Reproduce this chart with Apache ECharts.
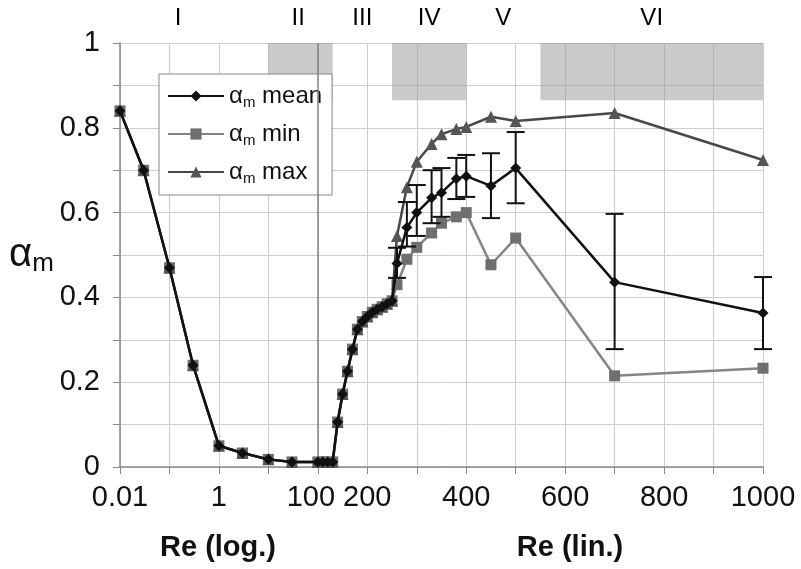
<!DOCTYPE html>
<html><head><meta charset="utf-8">
<script src="https://cdn.jsdelivr.net/npm/echarts@6/dist/echarts.min.js"></script>
<style>html,body{margin:0;padding:0;background:#fff}#c{width:801px;height:569px}</style>
</head><body><div id="c"></div>
<script>
// ---- data (Re values, alpha_m values) ----
// region where mean = min = max
const commonRe    = [0.01, 0.03, 0.1, 0.3, 1, 3, 10, 30, 100, 110, 120, 130, 140, 150, 160, 170, 180, 190, 200, 210, 220, 230, 240, 250];
const commonAlpha = [0.84, 0.70, 0.47, 0.24, 0.05, 0.033, 0.018, 0.012, 0.012, 0.012, 0.012, 0.012, 0.106, 0.172, 0.226, 0.278, 0.325, 0.343, 0.355, 0.365, 0.372, 0.378, 0.385, 0.392];
// region where the series split
const splitRe   = [260, 280, 300, 330, 350, 380, 400, 450, 500, 700, 1000];
const meanAlpha = [0.48, 0.565, 0.60, 0.635, 0.647, 0.68, 0.686, 0.663, 0.705, 0.436, 0.363];
const minAlpha  = [0.43, 0.49, 0.518, 0.552, 0.575, 0.59, 0.60, 0.477, 0.54, 0.215, 0.233];
const maxAlpha  = [0.545, 0.66, 0.72, 0.762, 0.785, 0.797, 0.802, 0.826, 0.816, 0.835, 0.724];
const errLow    = [0.446, 0.52, 0.545, 0.575, 0.59, 0.632, 0.637, 0.587, 0.622, 0.278, 0.278];
const errHigh   = [0.517, 0.625, 0.665, 0.70, 0.705, 0.729, 0.736, 0.74, 0.79, 0.597, 0.448];
// axis tick labels (Re) and shaded regimes
const xTickRe = [0.01, 1, 100, 200, 400, 600, 800, 1000];
const yTicks  = [0, 0.2, 0.4, 0.6, 0.8, 1];
const regimeNames = ['I', 'II', 'III', 'IV', 'V', 'VI'];
const regimeLabelRe = [0.15, 40, 190, 325, 475, 775];
const shadedFrom = [10, 250, 550];
const shadedTo   = [130, 400, 1000];
const shadeBottom = 0.865;

// piecewise axis scale: log for Re<=100, linear above
function toPos(re) { return re <= 100 ? Math.log10(re) + 2 : re / 100 + 3; }

const labelByPos = {};
xTickRe.forEach(r => { labelByPos[Math.round(toPos(r))] = r; });

function build(alphaSplit) {
  const d = commonRe.map((r, i) => [toPos(r), commonAlpha[i]]);
  splitRe.forEach((r, i) => d.push([toPos(r), alphaSplit[i]]));
  return d;
}
const errData = splitRe.map((r, i) => [toPos(r), errLow[i], errHigh[i]]);

const FONT = 'Liberation Sans, Arial, sans-serif';
const chart = echarts.init(document.getElementById('c'));

const legendRich = {
  g: { fontSize: 24, fontFamily: FONT, color: '#111', lineHeight: 28 },
  s: { fontSize: 15, fontFamily: FONT, color: '#111', verticalAlign: 'bottom', lineHeight: 28, padding: [6, 0, 0, 0] },
  t: { fontSize: 24, fontFamily: FONT, color: '#111', lineHeight: 28 }
};

chart.setOption({
  animation: false,
  backgroundColor: '#fff',
  grid: { left: 120, right: 38, top: 43, bottom: 102 },
  legend: {
    data: ['mean', 'min', 'max'],
    orient: 'vertical',
    left: 159, top: 74,
    padding: [10, 10, 9, 8],
    itemWidth: 56, itemHeight: 14, itemGap: 12,
    backgroundColor: '#fff',
    borderColor: '#888', borderWidth: 1,
    formatter: n => '{g|α}{s|m}{t| ' + n + '}',
    textStyle: { rich: legendRich, fontSize: 24, fontFamily: FONT }
  },
  xAxis: {
    type: 'value', min: 0, max: 13, interval: 1,
    axisLine: { show: true, lineStyle: { color: '#8a8a8a', width: 1.5 } },
    axisTick: { show: true, length: 7, lineStyle: { color: '#8a8a8a' } },
    splitLine: { show: true, lineStyle: { color: '#cdcdcd', width: 1 } },
    axisLabel: {
      margin: 16, color: '#111', fontSize: 29, fontFamily: FONT,
      formatter: v => {
        const r = labelByPos[Math.round(v)];
        if (r === undefined) return '';
        return r === 100 ? '{l|100}' : String(r);
      },
      rich: { l: { fontSize: 29, fontFamily: FONT, color: '#111', padding: [0, 14, 0, 0] } }
    }
  },
  yAxis: {
    type: 'value', min: 0, max: 1, interval: 0.1,
    name: '{a|α}{m|m}', nameLocation: 'middle', nameRotate: 0, nameGap: 64,
    nameTextStyle: {
      rich: {
        a: { fontSize: 40, fontFamily: FONT, color: '#111', lineHeight: 44 },
        m: { fontSize: 26, fontFamily: FONT, color: '#111', verticalAlign: 'bottom', lineHeight: 44, padding: [10, 0, 0, 0] }
      }
    },
    axisLine: { show: true, lineStyle: { color: '#8a8a8a', width: 1.5 } },
    axisTick: { show: true, length: 7, lineStyle: { color: '#8a8a8a' } },
    splitLine: { show: true, lineStyle: { color: '#cdcdcd', width: 1 } },
    axisLabel: {
      margin: 20, color: '#111', fontSize: 29, fontFamily: FONT,
      formatter: v => {
        const hit = yTicks.find(t => Math.abs(t - v) < 1e-6);
        return hit === undefined ? '' : String(hit);
      }
    }
  },
  series: [
    {
      name: 'min', type: 'line', data: build(minAlpha), z: 3,
      symbol: 'rect', symbolSize: 11,
      lineStyle: { color: '#858585', width: 2.5 },
      itemStyle: { color: '#6f6f6f' },
      markArea: {
        silent: true,
        itemStyle: { color: 'rgba(150,150,150,0.5)' },
        data: shadedFrom.map((f, i) => [{ xAxis: toPos(f), yAxis: shadeBottom }, { xAxis: toPos(shadedTo[i]), yAxis: 1 }])
      },
      markLine: {
        silent: true, symbol: 'none', label: { show: false },
        lineStyle: { color: '#808080', width: 1.5, type: 'solid' },
        data: [{ xAxis: toPos(100) }]
      }
    },
    {
      name: 'max', type: 'line', data: build(maxAlpha), z: 4,
      symbol: 'triangle', symbolSize: 12,
      lineStyle: { color: '#484848', width: 2.5 },
      itemStyle: { color: '#555555' }
    },
    {
      name: 'mean', type: 'line', data: build(meanAlpha), z: 5,
      symbol: 'diamond', symbolSize: 11,
      lineStyle: { color: '#111', width: 2.5 },
      itemStyle: { color: '#111' }
    },
    {
      name: 'err', type: 'custom', z: 6, silent: true,
      data: errData,
      encode: { x: 0, y: [1, 2] },
      renderItem: (params, api) => {
        const x = api.value(0);
        const lo = api.coord([x, api.value(1)]);
        const hi = api.coord([x, api.value(2)]);
        const w = 9;
        const st = { stroke: '#111', lineWidth: 2 };
        return {
          type: 'group',
          children: [
            { type: 'line', shape: { x1: lo[0], y1: lo[1], x2: hi[0], y2: hi[1] }, style: st },
            { type: 'line', shape: { x1: lo[0] - w, y1: lo[1], x2: lo[0] + w, y2: lo[1] }, style: st },
            { type: 'line', shape: { x1: hi[0] - w, y1: hi[1], x2: hi[0] + w, y2: hi[1] }, style: st }
          ]
        };
      }
    },
    {
      name: 'regimes', type: 'scatter', silent: true, z: 7,
      symbolSize: 0,
      itemStyle: { opacity: 1 },
      data: regimeNames.map((n, i) => ({ name: n, value: [toPos(regimeLabelRe[i]), 1] })),
      label: {
        show: true, position: 'top', distance: 13,
        formatter: p => p.name,
        color: '#000', opacity: 1, fontSize: 24, fontFamily: FONT
      }
    }
  ],
  graphic: [
    { type: 'text', x: 218, y: 548, style: { text: 'Re (log.)', font: 'bold 29px ' + FONT, fill: '#111', align: 'center', verticalAlign: 'middle' } },
    { type: 'text', x: 570, y: 548, style: { text: 'Re (lin.)', font: 'bold 29px ' + FONT, fill: '#111', align: 'center', verticalAlign: 'middle' } }
  ]
});
</script>
</body></html>
